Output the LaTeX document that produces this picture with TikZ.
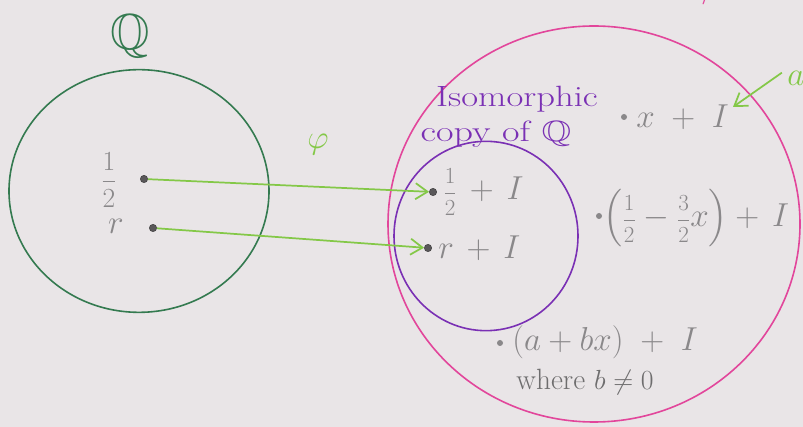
\documentclass[tikz,border=0pt]{standalone}
\usepackage{amsmath,amssymb}
\usetikzlibrary{arrows.meta,shapes.geometric}
\definecolor{paper}{RGB}{233,229,231}
\definecolor{qgreen}{RGB}{52,122,80}
\definecolor{lgreen}{RGB}{132,200,72}
\definecolor{purp}{RGB}{122,48,180}
\definecolor{pinkc}{RGB}{226,70,155}
\definecolor{pencil}{RGB}{138,136,138}
\definecolor{dotc}{RGB}{90,88,90}
\newcommand\myfr[2]{\mbox{\fontsize{19}{20}\selectfont$\dfrac{#1}{#2}$}}
\tikzset{
  setring/.style={draw, ellipse, line width=1.2pt, inner sep=0pt},
  elemdot/.style={circle, fill=dotc, draw=dotc!70!black, inner sep=0pt, minimum size=5.5pt},
  graydot/.style={circle, fill=pencil, inner sep=0pt, minimum size=4.5pt},
  maparrow/.style={draw=lgreen, line width=1.3pt, -{Straight Barb[length=9pt,width=12pt,line width=1.3pt]}},
  pencltxt/.style={text=pencil, font=\fontsize{24}{28}\selectfont, inner sep=0pt},
  purptxt/.style={text=purp, font=\fontsize{22}{24}\selectfont, inner sep=0pt}
}
\begin{document}
\begin{tikzpicture}[x=0.75pt,y=-0.75pt]
\fill[paper] (0,0) rectangle (803,427);
\useasboundingbox (0,0) rectangle (803,427);
\clip (0,0) rectangle (803,427);
% sets
\node[setring, draw=qgreen, minimum width=195pt, minimum height=182pt] (Qset) at (139,191) {};
\node[setring, draw=pinkc, minimum width=309pt, minimum height=297pt] (Rset) at (594,224) {};
\node[setring, draw=purp, minimum width=138pt, minimum height=142pt] (Iso) at (486,236) {};
% labels
\node[text=qgreen, font=\fontsize{38}{40}\selectfont, inner sep=0pt] (Qlab) at (130,36) {$\mathbb{Q}$};
\node[text=pinkc, font=\fontsize{30}{32}\selectfont, inner sep=0pt, anchor=south] (Rlab) at (722,5) {$/\;I$};
\node[text=lgreen, font=\fontsize{30}{32}\selectfont, inner sep=0pt] (phi) at (318,145) {$\varphi$};
\node[purptxt] (iso1) at (517,99) {\scalebox{1.25}[1]{Isomorphic}};
\node[purptxt] (iso2) at (496,134) {\scalebox{1.3}[1]{copy of $\mathbb{Q}$}};
% elements of Q
\node[elemdot] (half) at (144,179) {};
\node[elemdot] (r) at (153,228) {};
\node[pencltxt] (halflab) at (109,180) {\mbox{\fontsize{21}{23}\selectfont$\dfrac{1}{2}$}};
\node[pencltxt] (rlab) at (116,226) {$r$};
% elements of copy
\node[elemdot] (halfI) at (433,192) {};
\node[elemdot] (rI) at (428,248) {};
\node[pencltxt, anchor=west] (halfIlab) at (443,192) {$\myfr{1}{2}\,+\,I$};
\node[pencltxt, anchor=west] (rIlab) at (438,248) {$r\,+\,I$};
% other elements
\node[graydot] (xd) at (624,117) {};
\node[pencltxt, anchor=west] (xlab) at (636,117) {$x\;+\;I$};
\node[graydot] (md) at (599,216) {};
\node[pencltxt, anchor=west] (mlab) at (603,218) {$\left(\myfr{1}{2}-\myfr{3}{2}x\right)+\,I$};
\node[graydot] (gd) at (500,343) {};
\node[pencltxt, anchor=west] (glab) at (512,342) {$(a+bx)\;+\;I$};
\node[text=pencil!80!black, font=\fontsize{22}{24}\selectfont, inner sep=0pt] (where) at (585,382) {where $b\neq 0$};
% map arrows
\draw[maparrow] (half) -- (halfI);
\draw[maparrow] (r) -- (rI);
% annotation arrow
\node[text=lgreen, font=\fontsize{26}{28}\selectfont, inner sep=0pt] (alab) at (796,78) {$a$};
\coordinate (atip) at (733,107);
\draw[maparrow] (alab.west) ++(-4pt,4pt) coordinate (astart) -- (atip);
\end{tikzpicture}
\end{document}
